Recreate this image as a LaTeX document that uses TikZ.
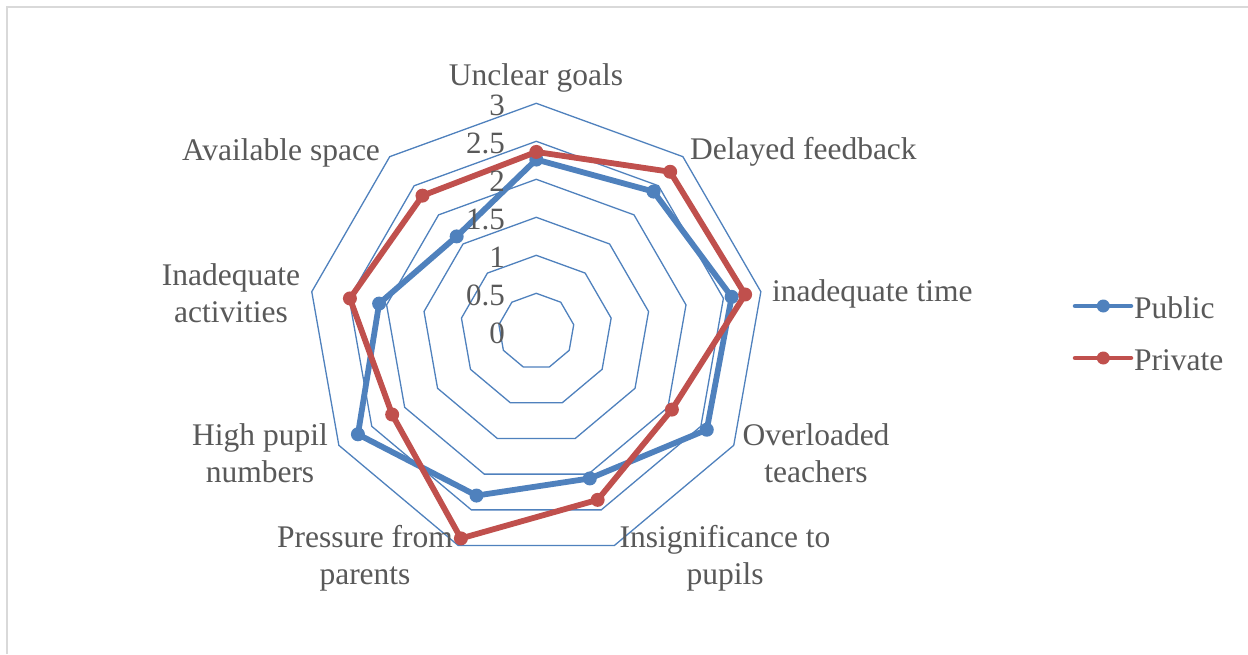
\documentclass[tikz,border=0pt]{standalone}
\usepackage{fontspec}
\setmainfont{Liberation Serif}
\usetikzlibrary{calc}
\definecolor{gridblue}{HTML}{4F81BD}
\definecolor{pubblue}{HTML}{4F81BD}
\definecolor{privred}{HTML}{C0504D}
\definecolor{txtgray}{HTML}{595959}
\definecolor{frame}{HTML}{D9D9D9}
\tikzset{
  lbl/.style={text=txtgray, font=\fontsize{31.5}{37}\selectfont, inner sep=0pt, align=center},
  vallbl/.style={text=txtgray, font=\fontsize{31}{36}\selectfont, inner sep=0pt, anchor=east},
  ring/.style={draw=gridblue, line width=1.3pt, line join=miter},
  publine/.style={draw=pubblue, line width=5.8pt, line join=round},
  privline/.style={draw=privred, line width=5.8pt, line join=round},
  pubdot/.style={fill=pubblue},
  privdot/.style={fill=privred},
}
\begin{document}
\begin{tikzpicture}[x=1pt,y=-1pt]
\path[use as bounding box, fill=white] (0,0) rectangle (1248,654);
\draw[frame, line width=1.5pt] (7,654) -- (7,7) -- (1248,7);
\begin{scope}[shift={(536.3,331.3)}, x=1pt, y=1pt]
  % rings
  \foreach \k in {1,...,6}{
    \draw[ring] (90:38*\k) -- (50:38*\k) -- (10:38*\k) -- (-30:38*\k) -- (-70:38*\k)
      -- (-110:38*\k) -- (-150:38*\k) -- (170:38*\k) -- (130:38*\k) -- cycle;
  }
  % data coordinates
  \foreach \v [count=\i from 0] in {2.26,2.40,2.61,2.59,2.06,2.30,2.71,2.10,1.63}{
    \coordinate (pub\i) at ({90-40*\i}:{76*\v});
  }
  \foreach \v [count=\i from 0] in {2.36,2.74,2.79,2.06,2.36,2.90,2.19,2.49,2.33}{
    \coordinate (pri\i) at ({90-40*\i}:{76*\v});
  }
  \draw[publine] (pub0) -- (pub1) -- (pub2) -- (pub3) -- (pub4) -- (pub5) -- (pub6) -- (pub7) -- (pub8) -- cycle;
  \foreach \i in {0,...,8}{ \fill[pubdot] (pub\i) circle (7pt); }
  \draw[privline] (pri0) -- (pri1) -- (pri2) -- (pri3) -- (pri4) -- (pri5) -- (pri6) -- (pri7) -- (pri8) -- cycle;
  \foreach \i in {0,...,8}{ \fill[privdot] (pri\i) circle (7pt); }
\end{scope}
% value labels
\node[vallbl] (v0) at (505,333) {0};
\node[vallbl] (v1) at (505,295) {0.5};
\node[vallbl] (v2) at (505,257) {1};
\node[vallbl] (v3) at (505,219) {1.5};
\node[vallbl] (v4) at (505,181) {2};
\node[vallbl] (v5) at (505,143) {2.5};
\node[vallbl] (v6) at (505,105) {3};
% category labels
\node[lbl] (c0) at (536,78) {Unclear goals};
\node[lbl, anchor=west] (c1) at (690,152) {Delayed feedback};
\node[lbl, anchor=west] (c2) at (772,294) {inadequate time};
\node[lbl] (c3) at (816,453) {Overloaded\\teachers};
\node[lbl] (c4) at (725,558) {Insignificance to\\pupils};
\node[lbl] (c5) at (365,558) {Pressure from\\parents};
\node[lbl] (c6) at (260,453) {High pupil\\numbers};
\node[lbl] (c7) at (231,293) {Inadequate\\activities};
\node[lbl] (c8) at (281,153) {Available space};
% legend
\coordinate (la1) at (1075,306);
\coordinate (lb1) at (1131,306);
\coordinate (lm1) at (1103.3,306);
\draw[pubblue, line width=4.5pt, line cap=round] (la1) -- (lb1);
\fill[pubdot] (lm1) circle (6.5pt);
\node[lbl, anchor=west] (lt1) at (1134,308) {Public};
\coordinate (la2) at (1075,358);
\coordinate (lb2) at (1131,358);
\coordinate (lm2) at (1103.3,358);
\draw[privred, line width=4.5pt, line cap=round] (la2) -- (lb2);
\fill[privdot] (lm2) circle (6.5pt);
\node[lbl, anchor=west] (lt2) at (1134,360) {Private};
\end{tikzpicture}
\end{document}
